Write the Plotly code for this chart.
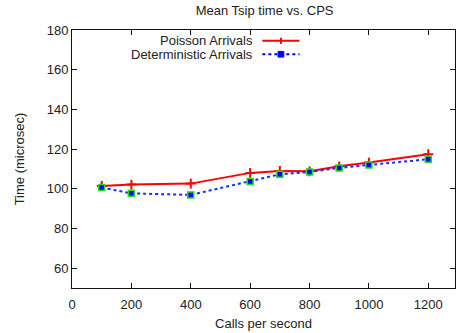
import plotly.graph_objects as go

cps = [100, 200, 400, 600, 700, 800, 900, 1000, 1200]
poisson = [101.4, 102.1, 102.6, 108.0, 109.0, 108.8, 111.3, 113.2, 117.4]
deterministic = [100.6, 97.7, 96.9, 103.6, 107.3, 108.5, 110.5, 112.0, 114.9]
series_names = ["Poisson Arrivals", "Deterministic Arrivals"]
x_ticks = [0, 200, 400, 600, 800, 1000, 1200]
y_ticks = [60, 80, 100, 120, 140, 160, 180]

FONT = "Liberation Sans, Arial, sans-serif"
TXT = "#222222"
FS = 13

fig = go.Figure()
fig.add_trace(go.Scatter(
    x=cps, y=poisson, mode="lines+markers", name=series_names[0],
    line=dict(color="#ff0000", width=2),
    marker=dict(symbol="cross-thin", size=7, line=dict(color="#ff0000", width=2)),
    showlegend=False, cliponaxis=False,
))
fig.add_trace(go.Scatter(
    x=cps, y=deterministic, mode="lines+markers", name=series_names[1],
    line=dict(color="#1030ff", width=2, dash="dot"),
    marker=dict(symbol="square", size=6, color="#0000ff", line=dict(color="#22dd22", width=1.5)),
    showlegend=False, cliponaxis=False,
))

# custom legend (text right-aligned, sample to the right like gnuplot)
legend_rows = [(series_names[0], 0.958), (series_names[1], 0.906)]
for name, yp in legend_rows:
    fig.add_annotation(xref="paper", yref="paper", x=0.478, y=yp, text=name,
                       showarrow=False, xanchor="right", yanchor="middle",
                       font=dict(family=FONT, size=FS, color=TXT))
# Poisson sample
y0 = legend_rows[0][1]
fig.add_shape(type="line", xref="paper", yref="paper", x0=0.497, x1=0.594, y0=y0, y1=y0,
              line=dict(color="#ff0000", width=2))
fig.add_shape(type="line", xref="paper", yref="paper", x0=0.5455, x1=0.5455, y0=y0 - 0.012, y1=y0 + 0.012,
              line=dict(color="#ff0000", width=2))
# Deterministic sample
y1 = legend_rows[1][1]
fig.add_shape(type="line", xref="paper", yref="paper", x0=0.497, x1=0.594, y0=y1, y1=y1,
              line=dict(color="#0000ff", width=2, dash="dot"))
fig.add_shape(type="rect", xref="paper", yref="paper", x0=0.538, x1=0.553, y0=y1 - 0.011, y1=y1 + 0.011,
              line=dict(color="#0000ff", width=1), fillcolor="#0000ff")

axis_common = dict(
    showline=True, linecolor="#111111", linewidth=1, mirror="ticks",
    ticks="inside", ticklen=5, tickcolor="#111111", tickwidth=1,
    showgrid=False, zeroline=False, automargin=False,
    tickfont=dict(family=FONT, size=FS, color=TXT),
)

fig.update_layout(
    width=457, height=333,
    margin=dict(l=72, r=2, t=30, b=45),
    paper_bgcolor="white", plot_bgcolor="white",
    title=dict(text="Mean Tsip time vs. CPS", x=0.579, xanchor="center", y=0.968, yanchor="middle",
               automargin=False, font=dict(family=FONT, size=FS, color=TXT)),
    xaxis=dict(range=[0, 1290], tickvals=x_ticks, ticklabelstandoff=4,
               title=dict(text="Calls per second", standoff=8, font=dict(family=FONT, size=FS, color=TXT)),
               **axis_common),
    yaxis=dict(range=[50, 180], tickvals=y_ticks,
               title=dict(text="Time (microsec)", standoff=19, font=dict(family=FONT, size=FS, color=TXT)),
               **axis_common),
)

fig.write_html("out.html", config={"displayModeBar": False},
               post_script="document.body.style.margin='0';document.body.style.padding='0';document.body.style.overflow='hidden';")
